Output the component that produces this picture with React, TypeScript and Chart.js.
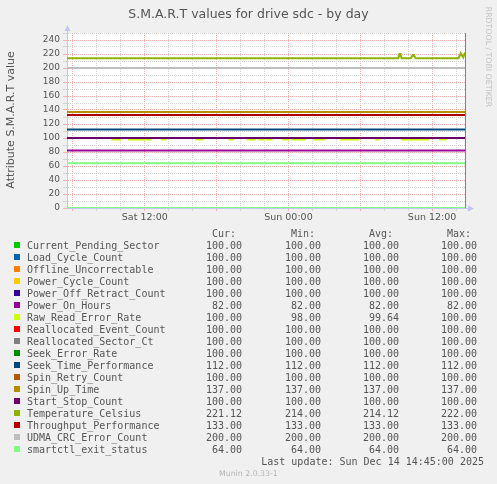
import React, { useEffect, useRef } from 'react';
import { Chart, registerables } from 'chart.js';

Chart.register(...registerables);

const seriesNames = [
  'Current_Pending_Sector',
  'Load_Cycle_Count',
  'Offline_Uncorrectable',
  'Power_Cycle_Count',
  'Power_Off_Retract_Count',
  'Power_On_Hours',
  'Raw_Read_Error_Rate',
  'Reallocated_Event_Count',
  'Reallocated_Sector_Ct',
  'Seek_Error_Rate',
  'Seek_Time_Performance',
  'Spin_Retry_Count',
  'Spin_Up_Time',
  'Start_Stop_Count',
  'Temperature_Celsius',
  'Throughput_Performance',
  'UDMA_CRC_Error_Count',
  'smartctl_exit_status',
];
const seriesColors = [
  '#00CC00', '#0066B3', '#FF8000', '#FFCC00', '#330099', '#990099',
  '#CCFF00', '#FF0000', '#808080', '#008F00', '#00487D', '#B35A00',
  '#B38F00', '#6B006B', '#8FB300', '#B30000', '#BEBEBE', '#80FF80',
];
const curValues = [100, 100, 100, 100, 100, 82, 100, 100, 100, 100, 112, 100, 137, 100, 221.12, 133, 200, 64];
const minValues = [100, 100, 100, 100, 100, 82, 98, 100, 100, 100, 112, 100, 137, 100, 214, 133, 200, 64];
const avgValues = [100, 100, 100, 100, 100, 82, 99.64, 100, 100, 100, 112, 100, 137, 100, 214.12, 133, 200, 64];
const maxValues = [100, 100, 100, 100, 100, 82, 100, 100, 100, 100, 112, 100, 137, 100, 222, 133, 200, 64];

// time in hours since Sat 00:00
const timeStart = 5.5;
const timeEnd = 38.75;

const rawReadTimes = [
  5.5, 9.28, 9.92, 10.67, 12.42, 13.45, 13.72, 16.31, 16.78, 19.06, 19.37, 20.58, 21.14,
  21.56, 21.92, 22.23, 22.58, 23.56, 24.03, 24.31, 25.37, 26.12, 26.95, 28.39, 29.81,
  31.31, 31.53, 33.48, 35.64, 36.67, 37.14, 38.75,
];
const rawReadValues = [
  100, 98, 100, 98, 100, 98, 100, 98, 100, 98, 100, 98, 100,
  98, 100, 98, 100, 98, 100, 98, 100, 98, 100, 98, 100,
  98, 100, 98, 100, 98, 100, 100,
];

const tempTimes = [5.5, 33.18, 33.28, 33.36, 33.45, 34.22, 34.38, 34.46, 34.62, 38.22, 38.39, 38.6, 38.75];
const tempValues = [214, 214, 220, 220, 214, 214, 218.5, 218.5, 214, 214, 221, 215, 222];

const baselineTimes = [5.5, 38.75];
const baselineValues = [0, 0];

const xTickLabels: Record<number, string> = { 12: 'Sat 12:00', 24: 'Sun 00:00', 36: 'Sun 12:00' };
const yMin = 0;
const yMax = 250;

const RED_GRID = '#F6B0B0';
const GRAY_GRID = '#D4D4D4';
const AXIS = '#C4C4F4';
const TEXT = '#555555';

const zip = (xs: number[], ys: number[]) => xs.map((x, i) => ({ x, y: ys[i] }));

const decorPlugin = {
  id: 'decor',
  beforeDraw(chart: any) {
    const { ctx, chartArea } = chart;
    ctx.save();
    ctx.fillStyle = '#FFFFFF';
    ctx.fillRect(chartArea.left, chartArea.top, chartArea.right - chartArea.left, chartArea.bottom - chartArea.top);
    ctx.restore();
  },
  afterDraw(chart: any) {
    const { ctx, chartArea } = chart;
    const l = Math.round(chartArea.left) + 0.5;
    const r = Math.round(chartArea.right) + 0.5;
    const b = Math.round(chartArea.bottom) + 0.5;
    ctx.save();
    ctx.lineWidth = 1;
    ctx.setLineDash([]);
    ctx.strokeStyle = '#808080';
    ctx.beginPath();
    ctx.moveTo(r, chartArea.top);
    ctx.lineTo(r, chartArea.bottom);
    ctx.stroke();
    ctx.strokeStyle = AXIS;
    ctx.beginPath();
    ctx.moveTo(l, chartArea.top);
    ctx.lineTo(l, chartArea.top - 3);
    ctx.moveTo(chartArea.right, b);
    ctx.lineTo(chartArea.right + 4, b);
    ctx.stroke();
    ctx.fillStyle = AXIS;
    ctx.beginPath();
    ctx.moveTo(l - 3, chartArea.top - 2);
    ctx.lineTo(l + 3, chartArea.top - 2);
    ctx.lineTo(l, chartArea.top - 8);
    ctx.closePath();
    ctx.fill();
    ctx.beginPath();
    ctx.moveTo(chartArea.right + 3, b - 3);
    ctx.lineTo(chartArea.right + 3, b + 3);
    ctx.lineTo(chartArea.right + 9, b);
    ctx.closePath();
    ctx.fill();
    ctx.restore();
  },
};

function seriesData(i: number) {
  if (i === 6) return zip(rawReadTimes, rawReadValues);
  if (i === 14) return zip(tempTimes, tempValues);
  return [
    { x: timeStart, y: curValues[i] },
    { x: timeEnd, y: curValues[i] },
  ];
}

export default function App() {
  const canvasRef = useRef<HTMLCanvasElement | null>(null);

  useEffect(() => {
    if (!canvasRef.current) return;
    Chart.defaults.font.family = 'DejaVu Sans';
    const datasets: any[] = seriesNames.map((name, i) => ({
      label: name,
      data: seriesData(i),
      borderColor: seriesColors[i],
      backgroundColor: seriesColors[i],
      borderWidth: 2,
      pointRadius: 0,
      tension: 0,
      stepped: i === 6,
      fill: false,
      order: -i,
    }));
    datasets.push({
      label: 'baseline',
      data: zip(baselineTimes, baselineValues),
      borderColor: '#80FF80',
      borderWidth: 2,
      pointRadius: 0,
      fill: false,
      order: 10,
    });

    const chart = new Chart(canvasRef.current, {
      type: 'line',
      data: { datasets },
      plugins: [decorPlugin],
      options: {
        animation: false,
        responsive: false,
        maintainAspectRatio: false,
        devicePixelRatio: 1,
        layout: { padding: { left: 0, top: 33, right: 32, bottom: 0 } },
        plugins: {
          legend: { display: false },
          tooltip: { enabled: false },
          title: { display: false },
        },
        scales: {
          x: {
            type: 'linear',
            min: timeStart,
            max: timeEnd,
            afterFit: (s: any) => {
              s.height = 276;
            },
            ticks: {
              stepSize: 2,
              includeBounds: false,
              autoSkip: false,
              maxRotation: 0,
              minRotation: 0,
              padding: 1,
              color: TEXT,
              font: { size: 9.5 },
              callback: (v: any) => xTickLabels[Number(v)] ?? '',
            },
            grid: {
              color: (c: any) => (c.tick && c.tick.value % 6 === 0 ? RED_GRID : GRAY_GRID),
              lineWidth: 1,
              tickLength: 3,
            },
            border: { color: AXIS, dash: [1, 1] },
          },
          y: {
            type: 'linear',
            min: yMin,
            max: yMax,
            afterFit: (s: any) => {
              s.width = 67;
            },
            ticks: {
              stepSize: 10,
              autoSkip: false,
              padding: 3,
              color: TEXT,
              font: { size: 9 },
              callback: (v: any) => (Number(v) % 20 === 0 ? String(v) : ''),
            },
            grid: {
              color: (c: any) => (c.tick && c.tick.value % 20 === 0 ? RED_GRID : GRAY_GRID),
              lineWidth: 1,
              tickLength: 4,
            },
            border: { color: AXIS, dash: [1, 1] },
          },
        },
      } as any,
    });
    return () => chart.destroy();
  }, []);

  const mono: React.CSSProperties = {
    position: 'absolute',
    fontFamily: '"DejaVu Sans Mono", monospace',
    fontSize: 10,
    lineHeight: '12px',
    color: TEXT,
    whiteSpace: 'pre',
  };
  const colRights = [242, 321, 399, 477];
  const headers = ['Cur: ', 'Min: ', 'Avg: ', 'Max: '];
  const cols = [curValues, minValues, avgValues, maxValues];
  const rowTop = (i: number) => 240 + 12 * i;

  return (
    <div
      style={{
        position: 'absolute',
        left: 0,
        top: 0,
        width: 497,
        height: 484,
        background: '#F0F0F0',
        overflow: 'hidden',
        fontFamily: '"DejaVu Sans", sans-serif',
      }}
    >
      <canvas ref={canvasRef} width={497} height={484} style={{ position: 'absolute', left: 0, top: 0, width: 497, height: 484 }} />
      <div
        style={{
          position: 'absolute',
          left: 0,
          top: 6,
          width: 497,
          textAlign: 'center',
          fontSize: 12.5,
          lineHeight: '16px',
          color: TEXT,
          whiteSpace: 'pre',
        }}
      >
        S.M.A.R.T values for drive sdc - by day
      </div>
      <div
        style={{
          position: 'absolute',
          left: 11 - 100,
          top: 120 - 7,
          width: 200,
          height: 14,
          lineHeight: '14px',
          textAlign: 'center',
          fontSize: 11,
          color: TEXT,
          whiteSpace: 'pre',
          transform: 'rotate(-90deg)',
        }}
      >
        Attribute S.M.A.R.T value
      </div>
      <div
        style={{
          position: 'absolute',
          left: 488 - 80,
          top: 56.5 - 5,
          width: 160,
          height: 10,
          lineHeight: '10px',
          textAlign: 'center',
          fontSize: 7.8,
          color: '#C4C4C4',
          whiteSpace: 'pre',
          transform: 'rotate(90deg)',
        }}
      >
        RRDTOOL / TOBI OETIKER
      </div>
      {headers.map((h, c) => (
        <div key={h} style={{ ...mono, left: colRights[c] - 80, width: 80, textAlign: 'right', top: 228 }}>
          {h}
        </div>
      ))}
      {seriesNames.map((name, i) => (
        <React.Fragment key={name}>
          <div
            style={{
              position: 'absolute',
              left: 14,
              top: rowTop(i) + 2,
              width: 6,
              height: 6,
              background: seriesColors[i],
            }}
          />
          <div style={{ ...mono, left: 27, top: rowTop(i) }}>{name}</div>
          {cols.map((arr, c) => (
            <div key={c} style={{ ...mono, left: colRights[c] - 80, width: 80, textAlign: 'right', top: rowTop(i) }}>
              {arr[i].toFixed(2)}
            </div>
          ))}
        </React.Fragment>
      ))}
      <div style={{ ...mono, left: 484 - 300, width: 300, textAlign: 'right', top: rowTop(18) }}>
        Last update: Sun Dec 14 14:45:00 2025
      </div>
      <div
        style={{
          position: 'absolute',
          left: 219,
          top: 469,
          fontSize: 7.8,
          lineHeight: '9px',
          color: '#B4B4B4',
          whiteSpace: 'pre',
        }}
      >
        Munin 2.0.33-1
      </div>
    </div>
  );
}
